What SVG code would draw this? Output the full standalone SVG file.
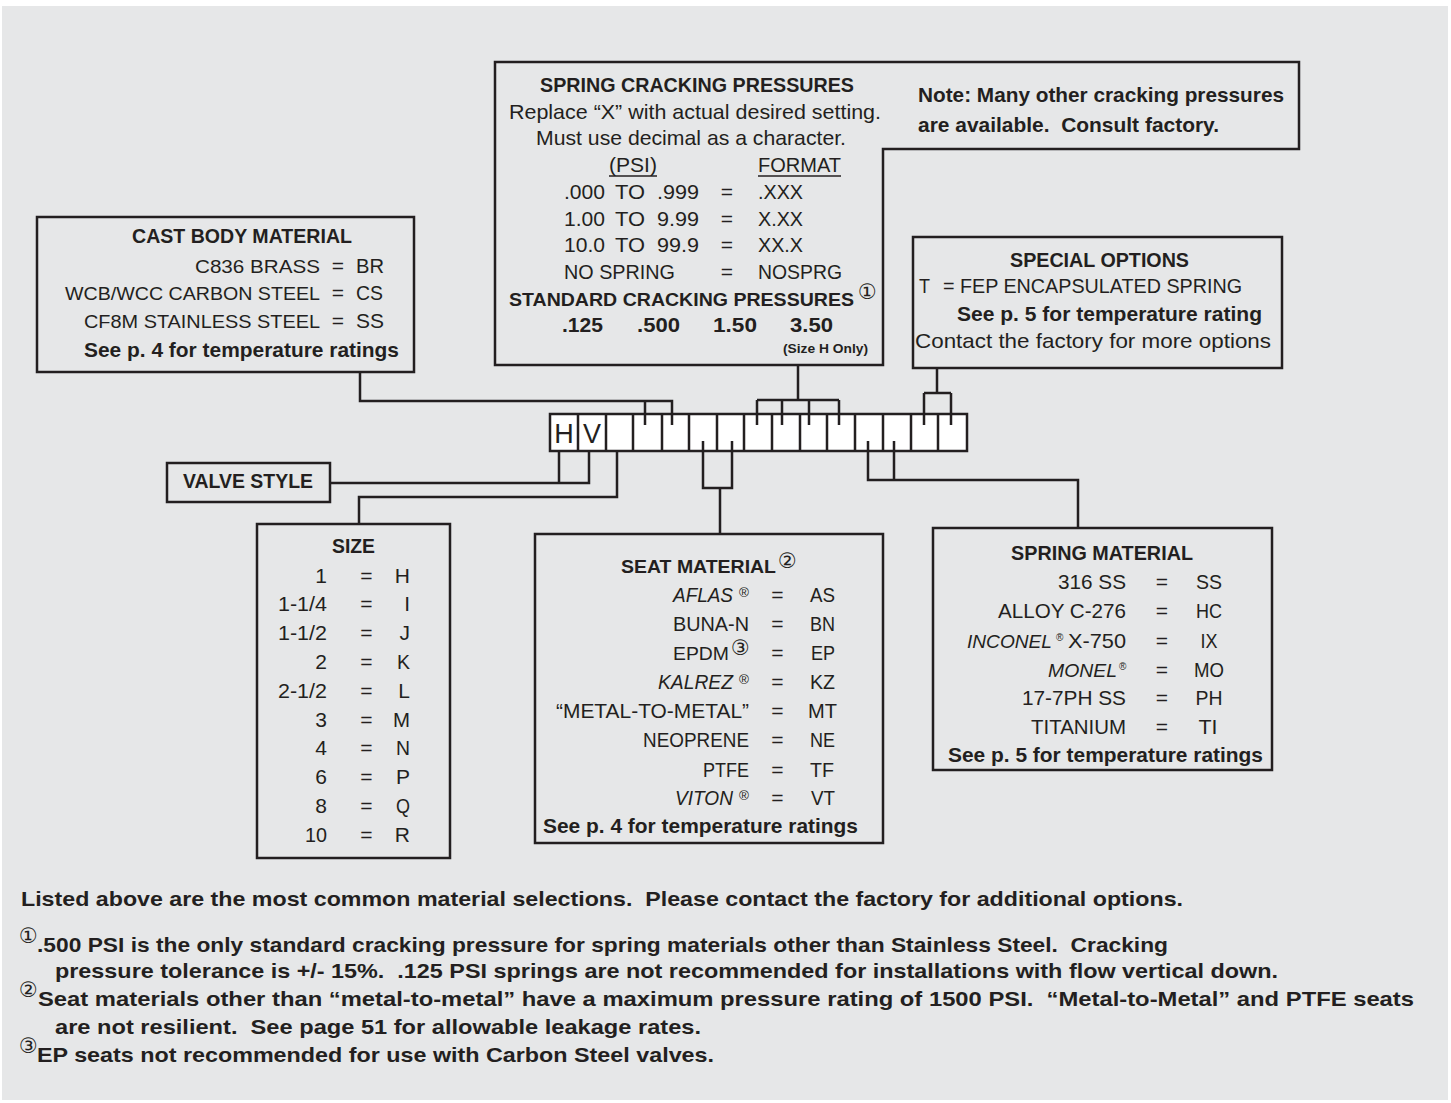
<svg xmlns="http://www.w3.org/2000/svg" width="1451" height="1103" viewBox="0 0 1451 1103">
<style>
text{font-family:"Liberation Sans",Arial,sans-serif;font-size:21px;fill:#231f20}
.b{font-weight:bold}
.i{font-style:italic}
.c{text-anchor:middle}
.e{text-anchor:end}
.s{font-size:19.2px}
.fn{font-size:21px;font-weight:bold}
.cir{font-family:"DejaVu Sans","Noto Sans CJK JP",sans-serif;font-size:21px;font-weight:normal}
.reg{font-size:13.5px;font-style:normal}
.box{fill:none;stroke:#231f20;stroke-width:2.5}
.cb{fill:#fff;stroke:#231f20;stroke-width:2.5}
.ln{fill:none;stroke:#231f20;stroke-width:2.5}
.ul{stroke:#231f20;stroke-width:1.5}
</style>
<rect x="0" y="0" width="1451" height="1103" fill="#fff"/>
<rect x="2" y="6" width="1446" height="1094" fill="#e6e7e8"/>

<g id="spring-cracking-pressures">
<path class="box" d="M495,62 H1299 V149 H883 V365 H495 Z"/>
<text class="b" x="540" y="92" textLength="314" lengthAdjust="spacingAndGlyphs">SPRING CRACKING PRESSURES</text>
<text x="509" y="119" textLength="372" lengthAdjust="spacingAndGlyphs">Replace “X” with actual desired setting.</text>
<text x="536" y="145" textLength="310" lengthAdjust="spacingAndGlyphs">Must use decimal as a character.</text>
<text x="609" y="172" textLength="48" lengthAdjust="spacingAndGlyphs">(PSI)</text>
<line class="ul" x1="609" y1="176" x2="657" y2="176"/>
<text x="758" y="172" textLength="83" lengthAdjust="spacingAndGlyphs">FORMAT</text>
<line class="ul" x1="758" y1="176" x2="841" y2="176"/>
<text x="564" y="199" textLength="41" lengthAdjust="spacingAndGlyphs">.000</text><text x="615" y="199" textLength="30" lengthAdjust="spacingAndGlyphs">TO</text><text x="657" y="199" textLength="42" lengthAdjust="spacingAndGlyphs">.999</text><text class="c" x="727" y="199">=</text><text x="758" y="199" textLength="45" lengthAdjust="spacingAndGlyphs">.XXX</text>
<text x="564" y="226" textLength="41" lengthAdjust="spacingAndGlyphs">1.00</text><text x="615" y="226" textLength="30" lengthAdjust="spacingAndGlyphs">TO</text><text x="657" y="226" textLength="42" lengthAdjust="spacingAndGlyphs">9.99</text><text class="c" x="727" y="226">=</text><text x="758" y="226" textLength="45" lengthAdjust="spacingAndGlyphs">X.XX</text>
<text x="564" y="252" textLength="41" lengthAdjust="spacingAndGlyphs">10.0</text><text x="615" y="252" textLength="30" lengthAdjust="spacingAndGlyphs">TO</text><text x="657" y="252" textLength="42" lengthAdjust="spacingAndGlyphs">99.9</text><text class="c" x="727" y="252">=</text><text x="758" y="252" textLength="45" lengthAdjust="spacingAndGlyphs">XX.X</text>
<text x="564" y="279" textLength="111" lengthAdjust="spacingAndGlyphs">NO SPRING</text><text class="c" x="727" y="279">=</text><text x="758" y="279" textLength="84" lengthAdjust="spacingAndGlyphs">NOSPRG</text>
<text class="b s" x="509" y="306" textLength="345" lengthAdjust="spacingAndGlyphs">STANDARD CRACKING PRESSURES</text>
<text class="cir" x="858" y="299">①</text>
<text class="b" x="562" y="332" textLength="41" lengthAdjust="spacingAndGlyphs">.125</text>
<text class="b" x="637" y="332" textLength="43" lengthAdjust="spacingAndGlyphs">.500</text>
<text class="b" x="713" y="332" textLength="44" lengthAdjust="spacingAndGlyphs">1.50</text>
<text class="b" x="790" y="332" textLength="43" lengthAdjust="spacingAndGlyphs">3.50</text>
<text class="b" x="783" y="353" textLength="85" lengthAdjust="spacingAndGlyphs" style="font-size:13.5px">(Size H Only)</text>
<text class="b" x="918" y="102" textLength="366" lengthAdjust="spacingAndGlyphs" style="font-size:20.5px">Note: Many other cracking pressures</text>
<text class="b" x="918" y="132" textLength="301" lengthAdjust="spacingAndGlyphs" style="font-size:20.5px" xml:space="preserve">are available.  Consult factory.</text>
</g>

<g id="cast-body-material">
<rect class="box" x="37" y="217" width="377" height="155"/>
<text class="b" x="132" y="243" textLength="220" lengthAdjust="spacingAndGlyphs">CAST BODY MATERIAL</text>
<text class="e s" x="320" y="273" textLength="125" lengthAdjust="spacingAndGlyphs">C836 BRASS</text><text class="c" x="338" y="273">=</text><text x="356" y="273" textLength="28" lengthAdjust="spacingAndGlyphs">BR</text>
<text class="e s" x="320" y="300" textLength="255" lengthAdjust="spacingAndGlyphs">WCB/WCC CARBON STEEL</text><text class="c" x="338" y="300">=</text><text x="356" y="300" textLength="27" lengthAdjust="spacingAndGlyphs">CS</text>
<text class="e s" x="320" y="328" textLength="236" lengthAdjust="spacingAndGlyphs">CF8M STAINLESS STEEL</text><text class="c" x="338" y="328">=</text><text x="356" y="328" textLength="28" lengthAdjust="spacingAndGlyphs">SS</text>
<text class="b" x="84" y="357" textLength="315" lengthAdjust="spacingAndGlyphs">See p. 4 for temperature ratings</text>
</g>

<g id="special-options">
<rect class="box" x="913" y="237" width="369" height="131"/>
<text class="b" x="1010" y="267" textLength="179" lengthAdjust="spacingAndGlyphs">SPECIAL OPTIONS</text>
<text x="919" y="293" textLength="11" lengthAdjust="spacingAndGlyphs">T</text><text x="943" y="293" textLength="299" lengthAdjust="spacingAndGlyphs">= FEP ENCAPSULATED SPRING</text>
<text class="b" x="957" y="321" textLength="305" lengthAdjust="spacingAndGlyphs">See p. 5 for temperature rating</text>
<text x="915" y="348" textLength="356" lengthAdjust="spacingAndGlyphs">Contact the factory for more options</text>
</g>

<g id="code-boxes">
<rect class="cb" x="550" y="414" width="417" height="37"/>
<path class="ln" d="M578,414V451M606,414V451M633,414V451M662,414V451M689,414V451M717,414V451M744,414V451M772,414V451M800,414V451M827,414V451M855,414V451M883,414V451M911,414V451M938,414V451"/>
<text class="c" x="564" y="443" style="font-size:27px">H</text>
<text class="c" x="592" y="443" style="font-size:27px">V</text>
</g>

<g id="valve-style">
<rect class="box" x="167" y="463" width="163" height="39"/>
<text class="b" x="183" y="488" textLength="130" lengthAdjust="spacingAndGlyphs">VALVE STYLE</text>
</g>

<g id="size">
<rect class="box" x="257" y="524" width="193" height="334"/>
<text class="b" x="332" y="553" textLength="43" lengthAdjust="spacingAndGlyphs">SIZE</text>
<g>
<text class="e" x="327" y="583">1</text><text class="c" x="366.5" y="583">=</text><text class="e" x="410" y="583">H</text>
<text class="e" x="327" y="611" textLength="49" lengthAdjust="spacingAndGlyphs">1-1/4</text><text class="c" x="366.5" y="611">=</text><text class="e" x="410" y="611">I</text>
<text class="e" x="327" y="640" textLength="49" lengthAdjust="spacingAndGlyphs">1-1/2</text><text class="c" x="366.5" y="640">=</text><text class="e" x="410" y="640">J</text>
<text class="e" x="327" y="669">2</text><text class="c" x="366.5" y="669">=</text><text class="e" x="410" y="669" textLength="13" lengthAdjust="spacingAndGlyphs">K</text>
<text class="e" x="327" y="698" textLength="49" lengthAdjust="spacingAndGlyphs">2-1/2</text><text class="c" x="366.5" y="698">=</text><text class="e" x="410" y="698">L</text>
<text class="e" x="327" y="727">3</text><text class="c" x="366.5" y="727">=</text><text class="e" x="410" y="727" textLength="17" lengthAdjust="spacingAndGlyphs">M</text>
<text class="e" x="327" y="755">4</text><text class="c" x="366.5" y="755">=</text><text class="e" x="410" y="755" textLength="14" lengthAdjust="spacingAndGlyphs">N</text>
<text class="e" x="327" y="784">6</text><text class="c" x="366.5" y="784">=</text><text class="e" x="410" y="784">P</text>
<text class="e" x="327" y="813">8</text><text class="c" x="366.5" y="813">=</text><text class="e" x="410" y="813" textLength="14" lengthAdjust="spacingAndGlyphs">Q</text>
<text class="e" x="327" y="842" textLength="22" lengthAdjust="spacingAndGlyphs">10</text><text class="c" x="366.5" y="842">=</text><text class="e" x="410" y="842">R</text>
</g>
</g>

<g id="seat-material">
<rect class="box" x="535" y="534" width="348" height="309"/>
<text class="b s" x="621" y="573" textLength="155" lengthAdjust="spacingAndGlyphs">SEAT MATERIAL</text>
<text class="cir" x="778" y="568">②</text>
<text class="e i" x="733" y="602" textLength="60" lengthAdjust="spacingAndGlyphs">AFLAS</text><text class="reg" x="739" y="597">®</text><text class="c" x="777.5" y="602">=</text><text x="810" y="602" textLength="25" lengthAdjust="spacingAndGlyphs">AS</text>
<text class="e" x="749" y="631" textLength="76" lengthAdjust="spacingAndGlyphs">BUNA-N</text><text class="c" x="777.5" y="631">=</text><text x="810" y="631" textLength="25" lengthAdjust="spacingAndGlyphs">BN</text>
<text class="e s" x="729" y="660" textLength="56" lengthAdjust="spacingAndGlyphs">EPDM</text><text class="cir" x="731" y="655">③</text><text class="c" x="777.5" y="660">=</text><text x="811" y="660" textLength="24" lengthAdjust="spacingAndGlyphs">EP</text>
<text class="e i" x="733" y="689" textLength="75" lengthAdjust="spacingAndGlyphs">KALREZ</text><text class="reg" x="739" y="684">®</text><text class="c" x="777.5" y="689">=</text><text x="810" y="689" textLength="25" lengthAdjust="spacingAndGlyphs">KZ</text>
<text class="e" x="749" y="718" textLength="193" lengthAdjust="spacingAndGlyphs">“METAL-TO-METAL”</text><text class="c" x="777.5" y="718">=</text><text x="808" y="718" textLength="29" lengthAdjust="spacingAndGlyphs">MT</text>
<text class="e" x="749" y="747" textLength="106" lengthAdjust="spacingAndGlyphs">NEOPRENE</text><text class="c" x="777.5" y="747">=</text><text x="810" y="747" textLength="25" lengthAdjust="spacingAndGlyphs">NE</text>
<text class="e" x="749" y="777" textLength="46" lengthAdjust="spacingAndGlyphs">PTFE</text><text class="c" x="777.5" y="777">=</text><text x="810" y="777" textLength="24" lengthAdjust="spacingAndGlyphs">TF</text>
<text class="e i" x="733" y="805" textLength="58" lengthAdjust="spacingAndGlyphs">VITON</text><text class="reg" x="739" y="800">®</text><text class="c" x="777.5" y="805">=</text><text x="811" y="805" textLength="24" lengthAdjust="spacingAndGlyphs">VT</text>
<text class="b" x="543" y="833" textLength="315" lengthAdjust="spacingAndGlyphs">See p. 4 for temperature ratings</text>
</g>

<g id="spring-material">
<rect class="box" x="933" y="528" width="339" height="242"/>
<text class="b" x="1011" y="560" textLength="182" lengthAdjust="spacingAndGlyphs">SPRING MATERIAL</text>
<text class="e" x="1126" y="589" textLength="68" lengthAdjust="spacingAndGlyphs">316 SS</text><text class="c" x="1162" y="589">=</text><text class="c" x="1209" y="589" textLength="26" lengthAdjust="spacingAndGlyphs">SS</text>
<text class="e" x="1126" y="618" textLength="128" lengthAdjust="spacingAndGlyphs">ALLOY C-276</text><text class="c" x="1162" y="618">=</text><text class="c" x="1209" y="618" textLength="26" lengthAdjust="spacingAndGlyphs">HC</text>
<text class="i s" x="967" y="648" textLength="85" lengthAdjust="spacingAndGlyphs">INCONEL</text><text class="reg" x="1056" y="641" style="font-size:10px">®</text><text class="e" x="1126" y="648" textLength="58" lengthAdjust="spacingAndGlyphs">X-750</text><text class="c" x="1162" y="648">=</text><text class="c" x="1209" y="648" textLength="17" lengthAdjust="spacingAndGlyphs">IX</text>
<text class="e i s" x="1117" y="677" textLength="69" lengthAdjust="spacingAndGlyphs">MONEL</text><text class="reg" x="1119" y="670" style="font-size:10px">®</text><text class="c" x="1162" y="677">=</text><text class="c" x="1209" y="677" textLength="30" lengthAdjust="spacingAndGlyphs">MO</text>
<text class="e" x="1126" y="705" textLength="104" lengthAdjust="spacingAndGlyphs">17-7PH SS</text><text class="c" x="1162" y="705">=</text><text class="c" x="1209" y="705" textLength="27" lengthAdjust="spacingAndGlyphs">PH</text>
<text class="e" x="1126" y="734" textLength="95" lengthAdjust="spacingAndGlyphs">TITANIUM</text><text class="c" x="1162" y="734">=</text><text class="c" x="1208" y="734" textLength="19" lengthAdjust="spacingAndGlyphs">TI</text>
<text class="b" x="948" y="762" textLength="315" lengthAdjust="spacingAndGlyphs">See p. 5 for temperature ratings</text>
</g>

<g id="connectors">
<path class="ln" d="M360,372V401H672V425M645,401V425"/>
<path class="ln" d="M798,365V400M757,400H839M757,400V425M782,400V425M809,400V425M839,400V425"/>
<path class="ln" d="M937,368V393M924,393H951M924,393V425M951,393V425"/>
<path class="ln" d="M559,451V483M589,451V483H330"/>
<path class="ln" d="M617,451V497H359V524"/>
<path class="ln" d="M703,441V488H732V441M720,488V534"/>
<path class="ln" d="M868,441V480H1078V528M894,441V480"/>
</g>

<g id="footnotes">
<text class="fn" x="21" y="906" textLength="1162" lengthAdjust="spacingAndGlyphs" xml:space="preserve">Listed above are the most common material selections.  Please contact the factory for additional options.</text>
<text class="cir" x="19" y="943">①</text>
<text class="fn" x="37" y="952" textLength="1131" lengthAdjust="spacingAndGlyphs" xml:space="preserve">.500 PSI is the only standard cracking pressure for spring materials other than Stainless Steel.  Cracking</text>
<text class="fn" x="55" y="978" textLength="1223" lengthAdjust="spacingAndGlyphs" xml:space="preserve">pressure tolerance is +/- 15%.  .125 PSI springs are not recommended for installations with flow vertical down.</text>
<text class="cir" x="19" y="997">②</text>
<text class="fn" x="38" y="1006" textLength="1376" lengthAdjust="spacingAndGlyphs" xml:space="preserve">Seat materials other than “metal-to-metal” have a maximum pressure rating of 1500 PSI.  “Metal-to-Metal” and PTFE seats</text>
<text class="fn" x="55" y="1034" textLength="646" lengthAdjust="spacingAndGlyphs" xml:space="preserve">are not resilient.  See page 51 for allowable leakage rates.</text>
<text class="cir" x="19" y="1053">③</text>
<text class="fn" x="37" y="1062" textLength="677" lengthAdjust="spacingAndGlyphs">EP seats not recommended for use with Carbon Steel valves.</text>
</g>
</svg>
